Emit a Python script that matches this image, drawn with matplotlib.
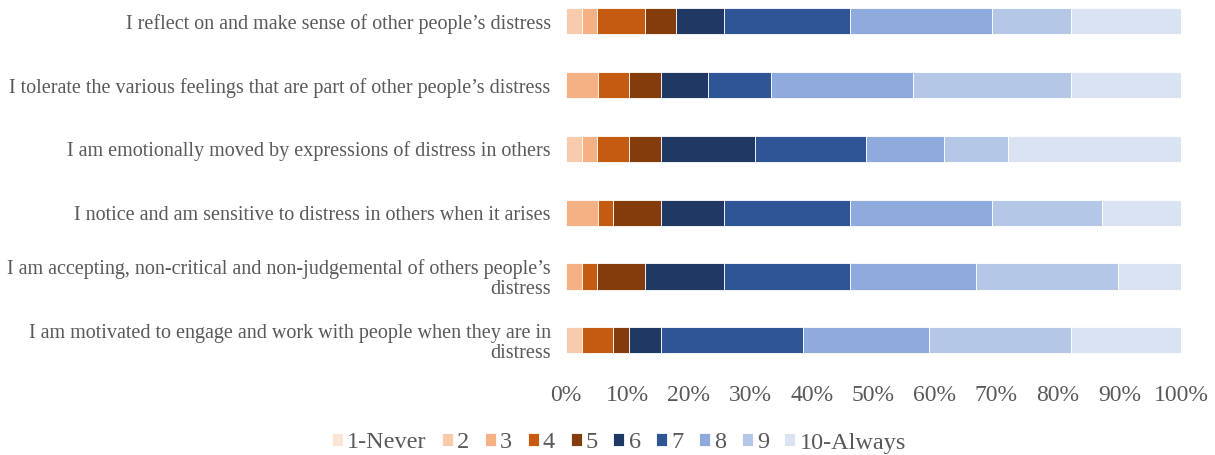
import matplotlib
matplotlib.use("Agg")
import matplotlib.pyplot as plt
import numpy as np

plt.rcParams['font.family'] = ['Liberation Serif', 'DejaVu Serif']

statements = [
    "I reflect on and make sense of other people\u2019s distress",
    "I tolerate the various feelings that are part of other people\u2019s distress",
    "I am emotionally moved by expressions of distress in others",
    "I notice and am sensitive to distress in others when it arises",
    "I am accepting, non-critical and non-judgemental of others people\u2019s\ndistress",
    "I am motivated to engage and work with people when they are in\ndistress",
]
levels = ["1-Never", "2", "3", "4", "5", "6", "7", "8", "9", "10-Always"]
# percentage of respondents (n=39) per response level, one list per statement
pct_reflect    = [0, 2.56, 2.56, 7.69, 5.13, 7.69, 20.51, 23.08, 12.82, 17.95]
pct_tolerate   = [0, 0, 5.13, 5.13, 5.13, 7.69, 10.26, 23.08, 25.64, 17.95]
pct_moved      = [0, 2.56, 2.56, 5.13, 5.13, 15.38, 17.95, 12.82, 10.26, 28.21]
pct_notice     = [0, 0, 5.13, 2.56, 7.69, 10.26, 20.51, 23.08, 17.95, 12.82]
pct_accepting  = [0, 0, 2.56, 2.56, 7.69, 12.82, 20.51, 20.51, 23.08, 10.26]
pct_motivated  = [0, 2.56, 0, 5.13, 2.56, 5.13, 23.08, 20.51, 23.08, 17.95]
data = np.array([pct_reflect, pct_tolerate, pct_moved, pct_notice, pct_accepting, pct_motivated])

colors = ["#FBE5D6", "#F8CBAD", "#F4B183", "#C55A11", "#843C0C",
          "#203864", "#2F5597", "#8FAADC", "#B4C7E7", "#DAE3F3"]
txt = "#595959"

W, H = 1215, 455
fig = plt.figure(figsize=(W/100, H/100), dpi=100)
ax = fig.add_axes([566/W, (H-362)/H, 615/W, 362/H])

ypos = np.arange(len(statements))
left = np.zeros(len(statements))
for j, lev in enumerate(levels):
    ax.barh(ypos, data[:, j], left=left, height=0.41, color=colors[j],
            edgecolor="white", linewidth=0.6, label=lev)
    left += data[:, j]

ax.set_xlim(0, 100)
ax.set_ylim(5.34, -0.334)
ax.set_yticks(ypos)
ax.set_yticklabels(statements, fontsize=14.5, color=txt, linespacing=1.05)
ax.set_xticks(np.arange(0, 101, 10))
ax.set_xticklabels([f"{v}%" for v in range(0, 101, 10)], fontsize=17, color=txt)
ax.tick_params(axis='both', length=0)
ax.tick_params(axis='y', pad=11)
ax.tick_params(axis='x', pad=16.5)
for s in ax.spines.values():
    s.set_visible(False)

leg = fig.legend(loc='center', bbox_to_anchor=(619/W, 1 - 443/H), ncol=10,
                 frameon=False, fontsize=17.5, handlelength=0.45, handleheight=0.45,
                 handletextpad=0.17, columnspacing=0.64, labelcolor=txt)

fig.savefig("out.png", dpi=100)
